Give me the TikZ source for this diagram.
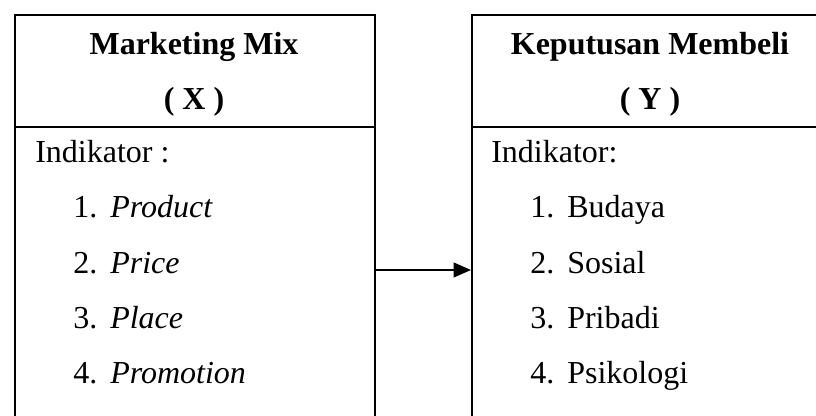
\documentclass[tikz,border=0pt]{standalone}
\usepackage{fontspec}
\setmainfont{Liberation Serif}
\usetikzlibrary{arrows.meta}

\tikzset{
  box/.style={draw, line width=1.5pt, rectangle, inner sep=0, anchor=north west},
  txt/.style={inner sep=0, anchor=base west},
  head/.style={inner sep=0, anchor=base, font=\fontsize{24}{29}\selectfont\bfseries},
}

\begin{document}
\begin{tikzpicture}[x=0.75pt, y=-0.75pt, font=\fontsize{24}{29}\selectfont]
      \clip (0,0) rectangle (816,416);

      % Boxes: header and indicator part
      \node[box, minimum width=270pt, minimum height=84pt] (mixhead) at (14,14) {};
      \node[box, minimum width=270pt, minimum height=236pt] (mixbody) at (14,126) {};
      \node[box, minimum width=268.5pt, minimum height=84pt] (belihead) at (471,14) {};
      \node[box, minimum width=268.5pt, minimum height=236pt] (belibody) at (471,126) {};

      % Titles
      \node[head] (mixtitle) at (194,55) {Marketing Mix};
      \node[head] (mixvar) at (194,110) {( X )};
      \node[head] (belititle) at (650,55) {Keputusan Membeli};
      \node[head] (belivar) at (650,110) {( Y )};

      % Indicators
      \node[txt] (mixind) at (35,163) {Indikator :};
      \foreach \ind [count=\n] in {Product, Price, Place, Promotion} {
        \node[txt] (mixnum\n) at (73,163+55*\n) {\n.};
        \node[txt] (mixitem\n) at (110,163+55*\n) {\textit{\ind}};
      }
      \node[txt] (beliind) at (491,163) {Indikator:};
      \foreach \ind [count=\n] in {Budaya, Sosial, Pribadi, Psikologi} {
        \node[txt] (belinum\n) at (530,163+55*\n) {\n.};
        \node[txt] (beliitem\n) at (567,163+55*\n) {\ind};
      }

      % Arrow X -> Y
      \coordinate (arr) at (0,270);
      \draw[line width=1.5pt, -{Triangle[length=13pt, width=11pt]}]
        (mixbody.east |- arr) -- (belibody.west |- arr);
\end{tikzpicture}
\end{document}
